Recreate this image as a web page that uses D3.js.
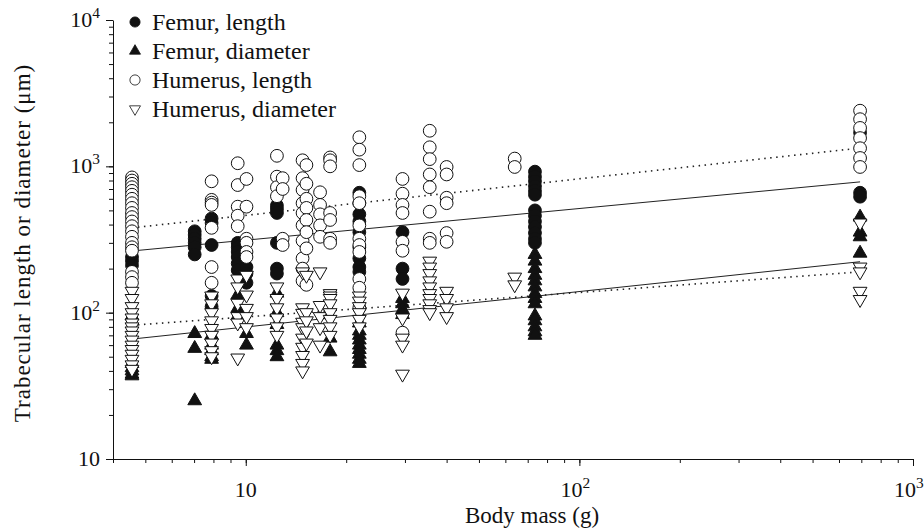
<!DOCTYPE html>
<html>
<head>
<meta charset="utf-8">
<script src="https://cdn.jsdelivr.net/npm/d3@7"></script>
<style>
  body { margin: 0; background: #fff; }
  text { font-family: "Liberation Serif", "Times New Roman", serif; fill: #111; }
</style>
</head>
<body>
<div id="chart"></div>
<script>
// Data: [body mass (g), value (um)]
const femurLength = [
  [4.56, 240], [4.56, 225], [4.56, 210],
  [7.03, 360], [7.03, 340], [7.03, 320], [7.03, 300], [7.03, 280], [7.03, 250],
  [7.9, 440], [7.9, 410], [7.9, 290], [7.9, 130], [7.9, 110],
  [9.46, 300], [9.46, 280], [9.46, 260], [9.46, 240], [9.46, 217], [9.46, 195],
  [10.05, 205], [10.05, 185], [10.05, 160],
  [12.4, 540], [12.4, 510], [12.4, 480], [12.4, 300], [12.4, 200], [12.4, 185],
  [21.9, 660], [21.9, 560], [21.9, 470], [21.9, 420], [21.9, 355], [21.9, 280], [21.9, 235], [21.9, 205], [21.9, 190],
  [29.5, 355], [29.5, 200], [29.5, 170],
  [73.6, 920], [73.6, 850], [73.6, 790], [73.6, 730], [73.6, 680], [73.6, 640],
  [73.6, 500], [73.6, 460], [73.6, 420], [73.6, 385], [73.6, 350], [73.6, 320], [73.6, 300],
  [694, 1700], [694, 660], [694, 620]
];
const femurDiameter = [
  [4.56, 95], [4.56, 45], [4.56, 42], [4.56, 40], [4.56, 38], [4.56, 37],
  [7.03, 72], [7.03, 57], [7.03, 25],
  [7.9, 70], [7.9, 60], [7.9, 55], [7.9, 50], [7.9, 48],
  [9.46, 132], [9.46, 107], [9.46, 95],
  [10.05, 72], [10.05, 60],
  [12.4, 136], [12.4, 100], [12.4, 83], [12.4, 60], [12.4, 55], [12.4, 50],
  [17.9, 67], [17.9, 54],
  [21.9, 85], [21.9, 75], [21.9, 70], [21.9, 65], [21.9, 60], [21.9, 56], [21.9, 52], [21.9, 48], [21.9, 45],
  [29.5, 125], [29.5, 115], [29.5, 105], [29.5, 97],
  [73.6, 250], [73.6, 225], [73.6, 200], [73.6, 180], [73.6, 165], [73.6, 150], [73.6, 135],
  [73.6, 125], [73.6, 115], [73.6, 95], [73.6, 88], [73.6, 80], [73.6, 74], [73.6, 70],
  [694, 450], [694, 355], [694, 330], [694, 255]
];
const humerusLength = [
  [4.56, 840], [4.56, 800], [4.56, 760], [4.56, 720], [4.56, 680], [4.56, 640], [4.56, 600],
  [4.56, 560], [4.56, 520], [4.56, 480], [4.56, 450], [4.56, 420], [4.56, 390], [4.56, 360],
  [4.56, 330], [4.56, 300], [4.56, 280], [4.56, 265], [4.56, 190], [4.56, 175], [4.56, 160],
  [7.9, 790], [7.9, 590], [7.9, 565], [7.9, 545], [7.9, 380], [7.9, 205], [7.9, 160],
  [9.46, 1050], [9.46, 745], [9.46, 530], [9.46, 460], [9.46, 390],
  [10.05, 820], [10.05, 530], [10.05, 320], [10.05, 300], [10.05, 260], [10.05, 240],
  [12.4, 1180], [12.4, 850], [12.4, 720], [12.4, 625],
  [12.9, 830], [12.9, 700], [12.9, 320], [12.9, 290],
  [14.8, 1100], [14.8, 830], [14.8, 690], [14.8, 560], [14.8, 480], [14.8, 395], [14.8, 310], [14.8, 235], [14.8, 200], [14.8, 165],
  [15.2, 1020], [15.2, 760], [15.2, 600], [15.2, 520], [15.2, 430], [15.2, 355], [15.2, 275], [15.2, 155],
  [16.7, 665], [16.7, 545], [16.7, 470], [16.7, 395], [16.7, 330],
  [17.9, 1150], [17.9, 1100], [17.9, 1000], [17.9, 480], [17.9, 430], [17.9, 320], [17.9, 300],
  [21.9, 1580], [21.9, 1300], [21.9, 1020], [21.9, 625], [21.9, 560], [21.9, 395], [21.9, 320],
  [21.9, 290], [21.9, 260], [21.9, 170], [21.9, 148], [21.9, 108],
  [29.5, 820], [29.5, 650], [29.5, 545], [29.5, 480], [29.5, 305], [29.5, 265], [29.5, 73],
  [35.6, 1750], [35.6, 1350], [35.6, 1120], [35.6, 880], [35.6, 720], [35.6, 490], [35.6, 320], [35.6, 300],
  [40, 990], [40, 880], [40, 610], [40, 560], [40, 350], [40, 305],
  [64, 1130], [64, 990],
  [694, 2400], [694, 2100], [694, 1830], [694, 1560], [694, 1330], [694, 1140], [694, 990]
];
const humerusDiameter = [
  [4.56, 140], [4.56, 125], [4.56, 110], [4.56, 100], [4.56, 92], [4.56, 85], [4.56, 80], [4.56, 75],
  [4.56, 70], [4.56, 65], [4.56, 60], [4.56, 56], [4.56, 52], [4.56, 48], [4.56, 44], [4.56, 41],
  [7.9, 130], [7.9, 115], [7.9, 100], [7.9, 88], [7.9, 78], [7.9, 70], [7.9, 62], [7.9, 55], [7.9, 50],
  [9.46, 170], [9.46, 150], [9.46, 116], [9.46, 94], [9.46, 85], [9.46, 49],
  [10.05, 180], [10.05, 132], [10.05, 107], [10.05, 94], [10.05, 79],
  [12.4, 150], [12.4, 125], [12.4, 108], [12.4, 92], [12.4, 80], [12.4, 70],
  [14.8, 190], [14.8, 108], [14.8, 99], [14.8, 86], [14.8, 79], [14.8, 67], [14.8, 58], [14.8, 51], [14.8, 45], [14.8, 40],
  [15.2, 180], [15.2, 100], [15.2, 88], [15.2, 75], [15.2, 62],
  [16.7, 190], [16.7, 112], [16.7, 94], [16.7, 79], [16.7, 60],
  [17.9, 135], [17.9, 130], [17.9, 125], [17.9, 115], [17.9, 100], [17.9, 90], [17.9, 80], [17.9, 70],
  [21.9, 130], [21.9, 120], [21.9, 110], [21.9, 100], [21.9, 90], [21.9, 80],
  [29.5, 136], [29.5, 92], [29.5, 67], [29.5, 60], [29.5, 38],
  [35.6, 225], [35.6, 205], [35.6, 185], [35.6, 165], [35.6, 150], [35.6, 135], [35.6, 125], [35.6, 115], [35.6, 105], [35.6, 100],
  [40, 140], [40, 125], [40, 108], [40, 94],
  [64, 175], [64, 155],
  [694, 410], [694, 205], [694, 190], [694, 140], [694, 123]
];

// fitted lines, end points
const fitMass = [4.56, 694];
const fitFemurLength = [264, 783];
const fitFemurDiameter = [66, 223];
const fitHumerusLength = [380, 1333];
const fitHumerusDiameter = [82, 190];

const legendLabels = ["Femur, length", "Femur, diameter", "Humerus, length", "Humerus, diameter"];
const yMajor = [10, 100, 1000, 10000];
const yMajorExp = ["", "2", "3", "4"];
const xMajor = [10, 100, 1000];
const xMajorExp = ["", "2", "3"];

const W = 924, H = 528;
const svg = d3.select("#chart").append("svg")
  .attr("width", W)
  .attr("height", H);

const x = d3.scaleLog().domain([4, 1000]).range([113, 913]);
const y = d3.scaleLog().domain([10, 10000]).range([459, 20]);

const minorY = [];
for (let d = 10; d < 10000; d *= 10)
  for (let k = 1; k < 10; k++) minorY.push(d * k);
minorY.push(10000);
const minorX = [];
for (let d = 1; d < 1000; d *= 10)
  for (let k = 1; k < 10; k++) if (d * k >= 4) minorX.push(d * k);
minorX.push(1000);

// axes
const fs = 23;
const tfs = 22;
svg.append("g")
  .attr("transform", "translate(113,0)")
  .call(d3.axisLeft(y).tickValues(minorY).tickSize(4).tickFormat(""))
  .call(g => g.select(".domain").remove());
svg.append("g")
  .attr("transform", "translate(113,0)")
  .call(d3.axisLeft(y).tickValues(yMajor).tickSize(7).tickSizeOuter(0).tickFormat(""));
svg.append("g")
  .attr("transform", "translate(0,459)")
  .call(d3.axisBottom(x).tickValues(minorX).tickSize(4).tickFormat(""))
  .call(g => g.select(".domain").remove());
svg.append("g")
  .attr("transform", "translate(0,459)")
  .call(d3.axisBottom(x).tickValues(xMajor).tickSize(7).tickSizeOuter(0).tickFormat(""));
svg.selectAll(".domain, .tick line").attr("stroke", "#111");

yMajor.forEach((v, i) => {
  const t = svg.append("text")
    .attr("x", 100)
    .attr("y", y(v) + 7)
    .attr("text-anchor", "end")
    .attr("font-size", tfs);
  t.append("tspan").text("10");
  if (yMajorExp[i]) t.append("tspan").attr("font-size", tfs * 0.7).attr("dy", -9).text(yMajorExp[i]);
});
xMajor.forEach((v, i) => {
  const t = svg.append("text")
    .attr("x", xMajorExp[i] ? x(v) - 19 : x(v))
    .attr("y", 497)
    .attr("text-anchor", xMajorExp[i] ? "start" : "middle")
    .attr("font-size", tfs);
  t.append("tspan").text("10");
  if (xMajorExp[i]) t.append("tspan").attr("font-size", tfs * 0.7).attr("dy", -9).text(xMajorExp[i]);
});

svg.append("text")
  .attr("x", 532).attr("y", 523)
  .attr("text-anchor", "middle")
  .attr("font-size", fs)
  .text("Body mass (g)");
svg.append("text")
  .attr("transform", "translate(30,243) rotate(-90)")
  .attr("text-anchor", "middle")
  .attr("font-size", fs)
  .attr("letter-spacing", 1)
  .text("Trabecular length or diameter (μm)");

// fitted lines
const fits = [
  [fitFemurLength, null],
  [fitFemurDiameter, null],
  [fitHumerusLength, "1.5,4.5"],
  [fitHumerusDiameter, "1.5,4.5"]
];
fits.forEach(([vals, dash]) => {
  svg.append("line")
    .attr("x1", x(fitMass[0])).attr("y1", y(vals[0]))
    .attr("x2", x(fitMass[1])).attr("y2", y(vals[1]))
    .attr("stroke", "#222")
    .attr("stroke-width", dash ? 1.6 : 1)
    .attr("stroke-dasharray", dash);
});

// markers
const circle = d3.symbol().type(d3.symbolCircle).size(128)();
const tri = d3.symbol().type(d3.symbolTriangle).size(82)();
const styles = [
  { data: femurLength, path: circle, fill: "#111", rot: 0 },
  { data: femurDiameter, path: tri, fill: "#111", rot: 0 },
  { data: humerusLength, path: circle, fill: "#fff", rot: 0 },
  { data: humerusDiameter, path: tri, fill: "#fff", rot: 180 }
];
styles.forEach(s => {
  svg.append("g").selectAll("path")
    .data(s.data)
    .enter()
    .append("path")
    .attr("d", s.path)
    .attr("transform", d => `translate(${x(d[0])},${y(d[1])}) rotate(${s.rot})`)
    .attr("fill", s.fill)
    .attr("stroke", "#111")
    .attr("stroke-width", 1);
});

// legend
const legend = svg.append("g");
styles.forEach((s, i) => {
  const ly = 22 + i * 29;
  legend.append("path")
    .attr("d", s.path)
    .attr("transform", `translate(135,${ly}) rotate(${s.rot}) scale(0.8)`)
    .attr("fill", s.fill)
    .attr("stroke", "#111");
  legend.append("text")
    .attr("x", 152).attr("y", ly + 8)
    .attr("font-size", 24)
    .text(legendLabels[i]);
});
</script>
</body>
</html>
